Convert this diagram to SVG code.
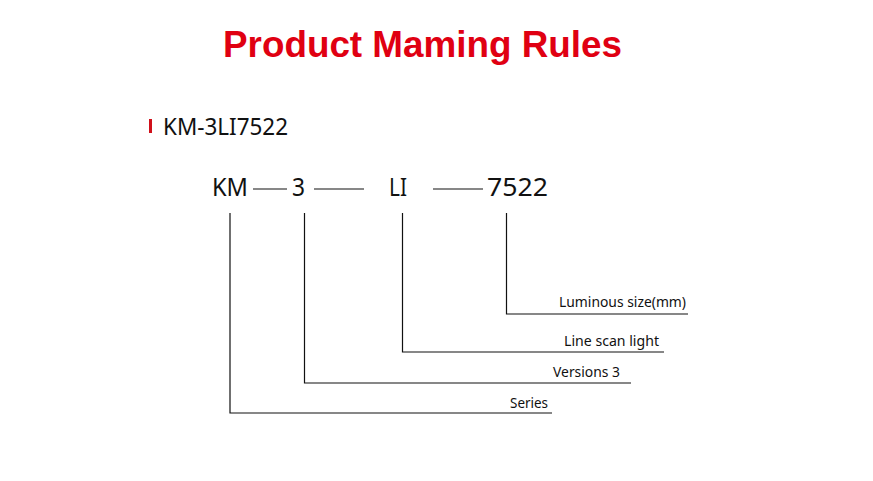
<svg xmlns="http://www.w3.org/2000/svg" width="873" height="481" viewBox="0 0 873 481">
<style>
.t{font-family:"Noto Sans","Liberation Sans",sans-serif;fill:#111}
.ln{stroke:#111;stroke-width:1.2;fill:none}
</style>
<rect width="873" height="481" fill="#fff"/>
<g id="title"><text x="223" y="57" font-family="Liberation Sans, Arial, sans-serif" font-weight="bold" font-size="37" fill="#e00012" textLength="399" lengthAdjust="spacingAndGlyphs">Product Maming Rules</text></g>
<g id="model"><rect x="149" y="119" width="3" height="14" fill="#d0101a"/><text class="t" x="163" y="135" font-size="23" textLength="125" lengthAdjust="spacingAndGlyphs">KM-3LI7522</text></g>
<g id="code">
<text class="t" x="212" y="196" font-size="26" textLength="36" lengthAdjust="spacingAndGlyphs">KM</text>
<text class="t" x="292" y="196" font-size="26" textLength="13" lengthAdjust="spacingAndGlyphs">3</text>
<text class="t" x="389" y="196" font-size="26" textLength="18" lengthAdjust="spacingAndGlyphs">LI</text>
<text class="t" x="487" y="196" font-size="26" textLength="61" lengthAdjust="spacingAndGlyphs">7522</text>
</g>
<g id="connectors">
<line class="ln" x1="253" y1="189" x2="287" y2="189"/>
<line class="ln" x1="314" y1="189" x2="364" y2="189"/>
<line class="ln" x1="433" y1="189" x2="483" y2="189"/>
<polyline class="ln" points="230,213 230,413 552,413"/>
<polyline class="ln" points="304.5,213 304.5,383 631,383"/>
<polyline class="ln" points="402.5,213 402.5,352 664,352"/>
<polyline class="ln" points="506.5,213 506.5,314 688,314"/>
</g>
<g id="labels" font-size="14">
<text class="t" x="686" y="307" text-anchor="end" textLength="127" lengthAdjust="spacingAndGlyphs">Luminous size(mm)</text>
<text class="t" x="659" y="345.5" text-anchor="end" textLength="95" lengthAdjust="spacingAndGlyphs">Line scan light</text>
<text class="t" x="620" y="377" text-anchor="end" textLength="67" lengthAdjust="spacingAndGlyphs">Versions 3</text>
<text class="t" x="548" y="408" text-anchor="end" textLength="38" lengthAdjust="spacingAndGlyphs">Series</text>
</g>
</svg>
